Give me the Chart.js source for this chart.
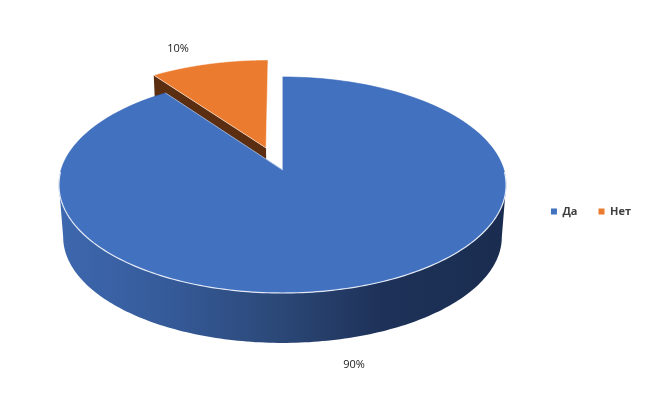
<!DOCTYPE html>
<html>
<head>
<meta charset="utf-8">
<style>
  html, body { margin: 0; padding: 0; background: #fff; }
  canvas { display: block; }
</style>
<script src="https://cdn.jsdelivr.net/npm/chart.js@4"></script>
</head>
<body>
<canvas id="pie" width="650" height="413"></canvas>
<script>
const categories = ['Да', 'Нет'];
const values = [90, 10];
const colors = ['#4171BF', '#EB7B2E'];
const labelSpots = [[354, 365], [178, 49]];
const textFont = '"Open Sans", sans-serif';

// circle seen in perspective, fitted to the picture
const cx = 282.5, scaleU = 221.4, apexY = 170, slopeV = 82.3, persp = -0.1389;
const depthScale = 0.981, depthY = 55.5;

function project(u, v, lower) {
  const d = 1 + persp * v;
  let x = cx + scaleU * u / d;
  let y = (slopeV * v + apexY) / d;
  if (lower) {
    x = cx + (x - cx) * depthScale;
    y = y * depthScale + depthY;
  }
  return [x, y];
}

function arcPoints(from, to, shiftU, shiftV, lower) {
  const pts = [];
  const steps = 160;
  for (let i = 0; i <= steps; i++) {
    const a = from + (to - from) * i / steps;
    pts.push(project(Math.cos(a) + shiftU, Math.sin(a) + shiftV, lower));
  }
  return pts;
}

function tracePath(ctx, pts, close) {
  ctx.beginPath();
  pts.forEach((p, i) => i ? ctx.lineTo(p[0], p[1]) : ctx.moveTo(p[0], p[1]));
  if (close) ctx.closePath();
}

const pie3d = {
  id: 'pie3d',
  beforeDatasetsDraw(chart) {
    const ctx = chart.ctx;
    const arcs = chart.getDatasetMeta(0).data;
    ctx.save();
    ctx.lineJoin = 'round';

    // orange first, the big slice covers its side
    const small = arcs[1];
    const mid = (small.startAngle + small.endAngle) / 2;
    const off = small.options.offset;
    const su = Math.cos(mid) * off * 1.1, sv = Math.sin(mid) * off;
    const edgeU = Math.cos(small.startAngle) + su, edgeV = Math.sin(small.startAngle) + sv;
    tracePath(ctx, [
      project(edgeU, edgeV, false), project(su, sv, false),
      project(su, sv, true), project(edgeU, edgeV, true)
    ], true);
    ctx.fillStyle = '#5C2E11';
    ctx.fill();
    const smallTop = [project(su, sv, false)].concat(arcPoints(small.startAngle, small.endAngle, su, sv, false));
    tracePath(ctx, smallTop, true);
    ctx.fillStyle = small.options.backgroundColor;
    ctx.fill();
    ctx.strokeStyle = 'rgba(255,255,255,0.55)';
    ctx.lineWidth = 1;
    ctx.stroke();

    // big slice: front wall, then the top
    const big = arcs[0];
    const wallFrom = 0.14, wallTo = Math.PI - 0.14;
    const wall = arcPoints(wallFrom, wallTo, 0, 0, false)
      .concat(arcPoints(wallFrom, wallTo, 0, 0, true).reverse());
    const grad = ctx.createLinearGradient(62, 0, 503, 0);
    grad.addColorStop(0, '#3D67AE');
    grad.addColorStop(0.25, '#355A98');
    grad.addColorStop(0.5, '#2B4776');
    grad.addColorStop(0.72, '#1E3259');
    grad.addColorStop(1, '#1A2D50');
    tracePath(ctx, wall, true);
    ctx.fillStyle = grad;
    ctx.fill();

    const bigTop = [project(0, 0, false)].concat(arcPoints(big.startAngle, big.endAngle, 0, 0, false));
    tracePath(ctx, bigTop, true);
    ctx.fillStyle = big.options.backgroundColor;
    ctx.fill();
    ctx.strokeStyle = '#2F62B8';
    ctx.lineWidth = 0.6;
    ctx.stroke();

    // light rim along the front and the cut edges
    tracePath(ctx, arcPoints(wallFrom - 0.12, wallTo + 0.12, 0, 0, false), false);
    ctx.strokeStyle = 'rgba(255,255,255,0.85)';
    ctx.lineWidth = 1.2;
    ctx.stroke();
    const apex = project(0, 0, false);
    tracePath(ctx, [
      project(Math.cos(big.endAngle), Math.sin(big.endAngle), false), apex,
      project(Math.cos(big.startAngle), Math.sin(big.startAngle), false)
    ], false);
    ctx.strokeStyle = 'rgba(255,255,255,0.5)';
    ctx.lineWidth = 1;
    ctx.stroke();

    // percent labels
    const total = values.reduce((a, b) => a + b, 0);
    ctx.font = '11px ' + textFont;
    ctx.fillStyle = '#1A1A1A';
    ctx.textAlign = 'center';
    ctx.textBaseline = 'middle';
    values.forEach((v, i) => {
      ctx.fillText(Math.round(v / total * 100) + '%', labelSpots[i][0], labelSpots[i][1]);
    });
    ctx.restore();
    return false;
  }
};

const pieChart = new Chart(document.getElementById('pie'), {
  type: 'pie',
  plugins: [pie3d],
  data: {
    labels: categories,
    datasets: [{
      data: values,
      backgroundColor: colors,
      borderWidth: 0,
      offset: [0, 0.225]
    }]
  },
  options: {
    responsive: false,
    animation: false,
    layout: { padding: { top: 185, right: -2 } },
    plugins: {
      tooltip: { enabled: false },
      legend: {
        position: 'top',
        align: 'end',
        labels: {
          boxWidth: 6,
          boxHeight: 6,
          padding: 21,
          color: '#404040',
          font: { family: textFont, size: 11, weight: 'bold' }
        }
      }
    }
  }
});
</script>
</body>
</html>
